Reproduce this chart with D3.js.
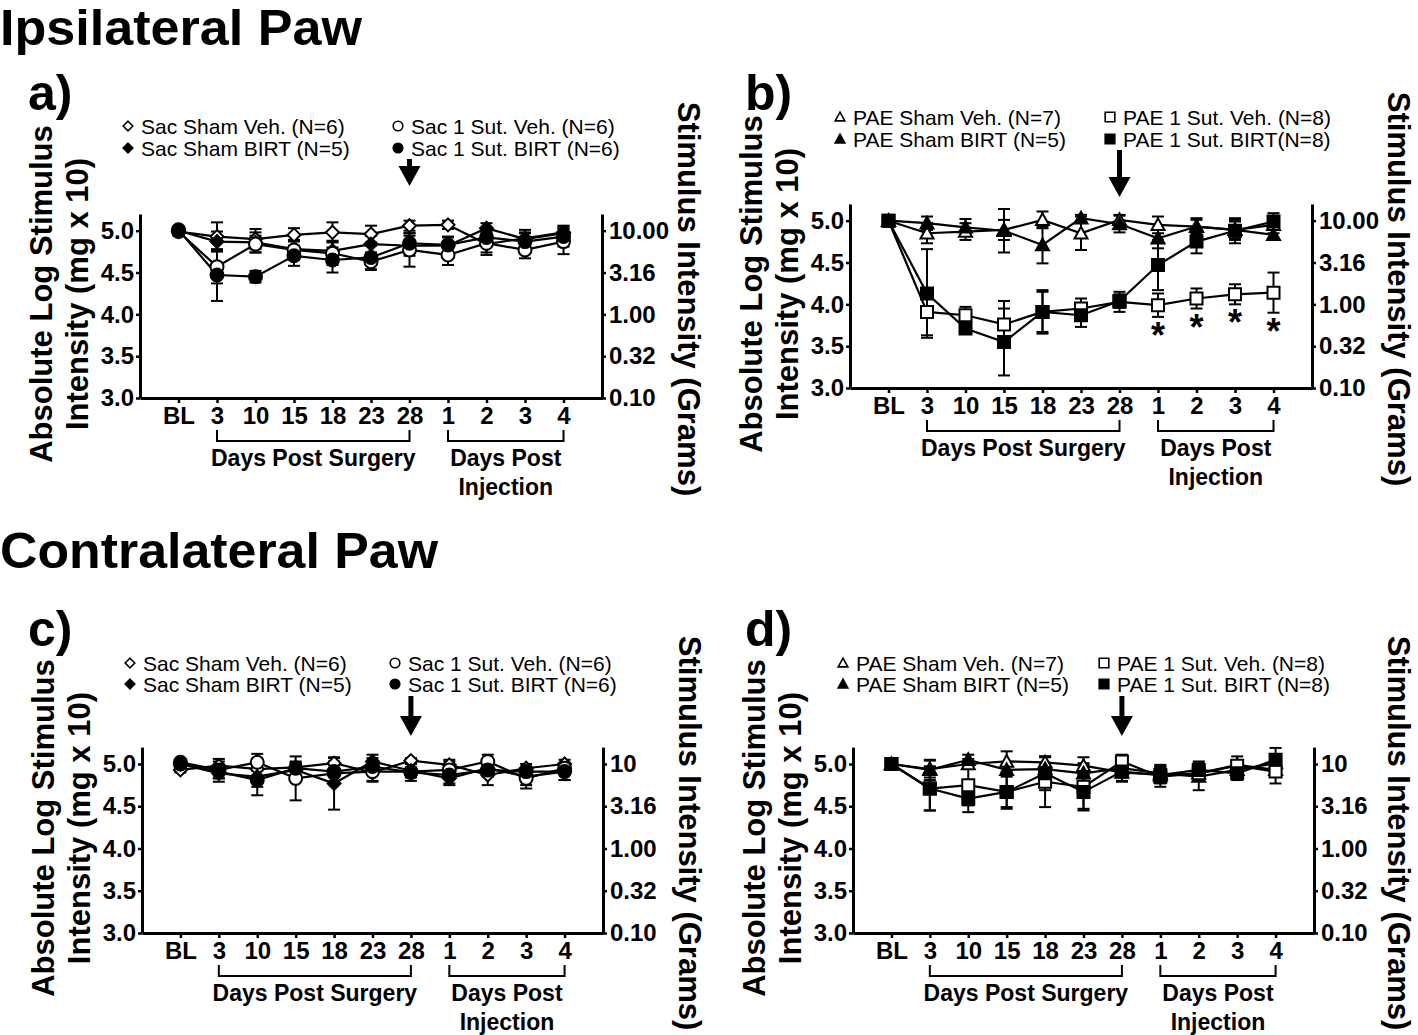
<!DOCTYPE html>
<html>
<head>
<meta charset="utf-8">
<script src="https://cdn.jsdelivr.net/npm/d3@7"></script>
<style>
  body { margin: 0; background: #fff; }
  svg { display: block; font-family: "Liberation Sans", Arial, sans-serif; }
</style>
</head>
<body>
<div id="chart"></div>
<script>
// categorias do eixo x (dias)
const xLabels = ["BL", "3", "10", "15", "18", "23", "28", "1", "2", "3", "4"];
const yTicks = [3.0, 3.5, 4.0, 4.5, 5.0];
const gramTicks = [0.1, 0.316, 1, 3.16, 10];
const gramLabelsTop = ["0.10", "0.32", "1.00", "3.16", "10.00"];
const gramLabelsBottom = ["0.10", "0.32", "1.00", "3.16", "10"];

const sacNames = ["Sac Sham Veh. (N=6)", "Sac Sham BIRT (N=5)", "Sac 1 Sut. Veh. (N=6)", "Sac 1 Sut. BIRT (N=6)"];
const paeNamesB = ["PAE Sham Veh. (N=7)", "PAE Sham BIRT (N=5)", "PAE 1 Sut. Veh. (N=8)", "PAE 1 Sut. BIRT(N=8)"];
const paeNamesD = ["PAE Sham Veh. (N=7)", "PAE Sham BIRT (N=5)", "PAE 1 Sut. Veh. (N=8)", "PAE 1 Sut. BIRT (N=8)"];

// painel a) ipsilateral, Sac
const aShamVeh = [4.99, 4.93, 4.90, 4.95, 4.98, 4.96, 5.06, 5.07, 4.84, 4.91, 4.98];
const aShamVehErr = [0.04, 0.17, 0.12, 0.08, 0.12, 0.10, 0.06, 0.05, 0.10, 0.10, 0.08];
const aShamBirt = [5.00, 4.87, 4.86, 4.78, 4.76, 4.84, 4.82, 4.82, 5.03, 4.90, 4.97];
const aShamBirtErr = [0.05, 0.12, 0.12, 0.10, 0.12, 0.10, 0.12, 0.10, 0.06, 0.08, 0.06];
const aSutVeh = [4.99, 4.57, 4.84, 4.77, 4.73, 4.63, 4.77, 4.71, 4.85, 4.77, 4.87];
const aSutVehErr = [0.05, 0.20, 0.10, 0.12, 0.14, 0.10, 0.20, 0.12, 0.14, 0.10, 0.15];
const aSutBirt = [5.01, 4.47, 4.45, 4.70, 4.65, 4.68, 4.85, 4.83, 4.92, 4.87, 4.93];
const aSutBirtErr = [0.04, 0.31, 0.07, 0.12, 0.15, 0.14, 0.12, 0.10, 0.10, 0.10, 0.12];

// painel b) ipsilateral, PAE
const bShamVeh = [5.00, 4.85, 4.87, 4.89, 5.01, 4.85, 5.01, 4.95, 4.93, 4.89, 4.95];
const bShamVehErr = [0.03, 0.12, 0.10, 0.12, 0.10, 0.20, 0.06, 0.10, 0.10, 0.10, 0.10];
const bShamBirt = [5.00, 4.97, 4.92, 4.88, 4.71, 5.03, 4.96, 4.79, 4.93, 4.89, 4.83];
const bShamBirtErr = [0.03, 0.08, 0.10, 0.26, 0.22, 0.04, 0.10, 0.12, 0.08, 0.12, 0.06];
const bSutVeh = [5.00, 3.91, 3.87, 3.76, 3.91, 3.95, 4.03, 3.99, 4.07, 4.12, 4.14];
const bSutVehErr = [0.03, 0.28, 0.10, 0.28, 0.26, 0.12, 0.12, 0.14, 0.12, 0.12, 0.24];
const bSutBirt = [5.00, 4.13, 3.71, 3.55, 3.91, 3.87, 4.04, 4.47, 4.75, 4.88, 4.99];
const bSutBirtErr = [0.03, 0.53, 0.06, 0.40, 0.24, 0.14, 0.08, 0.30, 0.14, 0.15, 0.10];
const bStars = [false, false, false, false, false, false, false, true, true, true, true];

// painel c) contralateral, Sac
const cShamVeh = [4.93, 4.98, 4.94, 4.96, 5.01, 4.90, 5.04, 4.99, 4.87, 4.95, 5.00];
const cShamVehErr = [0.03, 0.08, 0.08, 0.05, 0.06, 0.10, 0.03, 0.06, 0.12, 0.05, 0.05];
const cShamBirt = [5.00, 4.89, 4.85, 4.93, 4.77, 5.03, 4.92, 4.83, 4.95, 4.85, 4.91];
const cShamBirtErr = [0.04, 0.10, 0.12, 0.08, 0.31, 0.08, 0.08, 0.08, 0.10, 0.10, 0.10];
const cSutVeh = [5.02, 4.93, 5.02, 4.83, 4.89, 4.91, 4.91, 4.93, 5.03, 4.83, 4.95];
const cSutVehErr = [0.04, 0.10, 0.10, 0.26, 0.10, 0.12, 0.05, 0.10, 0.08, 0.12, 0.06];
const cSutBirt = [5.00, 4.91, 4.81, 4.95, 4.91, 4.97, 4.90, 4.87, 4.93, 4.91, 4.91];
const cSutBirtErr = [0.03, 0.08, 0.18, 0.08, 0.12, 0.10, 0.10, 0.10, 0.06, 0.06, 0.10];

// painel d) contralateral, PAE
const dShamVeh = [5.00, 4.94, 5.00, 5.03, 5.02, 4.98, 4.90, 4.87, 4.89, 4.99, 4.93];
const dShamVehErr = [0.03, 0.10, 0.06, 0.12, 0.06, 0.10, 0.10, 0.08, 0.06, 0.10, 0.08];
const dShamBirt = [5.00, 4.93, 5.05, 4.93, 4.94, 4.89, 4.95, 4.89, 4.85, 4.93, 5.01];
const dShamBirtErr = [0.03, 0.12, 0.06, 0.06, 0.06, 0.10, 0.08, 0.10, 0.16, 0.06, 0.10];
const dSutVeh = [5.00, 4.71, 4.75, 4.67, 4.79, 4.73, 5.03, 4.85, 4.89, 4.98, 4.91];
const dSutVehErr = [0.04, 0.26, 0.24, 0.20, 0.30, 0.28, 0.08, 0.12, 0.08, 0.06, 0.14];
const dSutBirt = [5.00, 4.71, 4.59, 4.67, 4.89, 4.67, 4.91, 4.87, 4.93, 4.89, 5.05];
const dSutBirtErr = [0.04, 0.26, 0.16, 0.18, 0.20, 0.20, 0.12, 0.10, 0.10, 0.08, 0.14];

const W = 1418, H = 1035;
const svg = d3.select("#chart").append("svg").attr("width", W).attr("height", H);

// forma dos marcadores
function markerPath(shape, s) {
  if (shape === "diamond") return `M0,${-s}L${s},0L0,${s}L${-s},0Z`;
  if (shape === "circle") return `M${-s},0A${s},${s} 0 1,0 ${s},0A${s},${s} 0 1,0 ${-s},0Z`;
  if (shape === "triangle") return `M0,${-s}L${s},${s * 0.8}L${-s},${s * 0.8}Z`;
  return `M${-s},${-s}L${s},${-s}L${s},${s}L${-s},${s}Z`;
}

// títulos gerais
svg.append("text").attr("x", 0).attr("y", 45).attr("font-size", 50).attr("font-weight", "bold")
  .attr("textLength", 362).attr("lengthAdjust", "spacingAndGlyphs").text("Ipsilateral Paw");
svg.append("text").attr("x", 0).attr("y", 568).attr("font-size", 50).attr("font-weight", "bold")
  .attr("textLength", 438).attr("lengthAdjust", "spacingAndGlyphs").text("Contralateral Paw");

function drawPanel(p) {
  const g = svg.append("g");
  const y = d3.scaleLinear().domain([3, 5]).range([p.y3, p.y5]);
  const yTop = y(5.2);
  const yAxisScale = d3.scaleLinear().domain([3, 5.2]).range([p.y3, yTop]);
  const gScale = d3.scaleLog().domain([0.1, Math.pow(10, 1.2)]).range([p.y3, yTop]);
  const x = d3.scalePoint().domain(d3.range(xLabels.length)).range([p.x0, p.x1]).padding(1);

  // letra do painel
  g.append("text").attr("x", p.letterX).attr("y", p.letterY).attr("font-size", 50).attr("font-weight", "bold").text(p.letter);

  // eixo esquerdo
  const left = g.append("g").attr("transform", `translate(${p.x0},0)`)
    .call(d3.axisLeft(yAxisScale).tickValues(yTicks).tickFormat(d3.format(".1f")).tickSize(4).tickSizeOuter(0).tickPadding(2));
  // eixo direito
  const right = g.append("g").attr("transform", `translate(${p.x1},0)`)
    .call(d3.axisRight(gScale).tickValues(gramTicks).tickFormat((d, i) => p.gramLabels[i]).tickSize(4).tickSizeOuter(0).tickPadding(3));
  // eixo x
  const bottom = g.append("g").attr("transform", `translate(0,${p.y3})`)
    .call(d3.axisBottom(x).tickFormat(i => xLabels[i]).tickSize(5).tickSizeOuter(0).tickPadding(4));

  [left, right, bottom].forEach(ax => {
    ax.select(".domain").attr("stroke", "#000").attr("stroke-width", 3);
    ax.selectAll(".tick line").attr("stroke", "#000").attr("stroke-width", 2.5);
    ax.selectAll(".tick text").attr("fill", "#000").attr("font-size", 24).attr("font-weight", "bold")
      .attr("font-family", "Liberation Sans, Arial, sans-serif");
  });

  // títulos dos eixos y
  const lx = p.x0 - 88, ly = (p.y3 + yTop) / 2 - 12;
  g.append("text").attr("transform", `translate(${lx},${ly}) rotate(-90)`).attr("text-anchor", "middle")
    .attr("font-size", 31).attr("font-weight", "bold").text("Absolute Log Stimulus");
  g.append("text").attr("transform", `translate(${lx + 36},${ly}) rotate(-90)`).attr("text-anchor", "middle")
    .attr("font-size", 31).attr("font-weight", "bold").text("Intensity (mg x 10)");
  g.append("text").attr("transform", `translate(${p.x1 + p.rightTitleDx},${ly + 5}) rotate(90)`).attr("text-anchor", "middle")
    .attr("font-size", 31).attr("font-weight", "bold").text("Stimulus Intensity (Grams)");

  // colchetes e rótulos do eixo x
  const by = p.y3 + 43;
  [[1, 6], [7, 10]].forEach(([a, b]) => {
    g.append("path").attr("d", `M${x(a)},${by - 11}V${by}H${x(b)}V${by - 11}`)
      .attr("fill", "none").attr("stroke", "#000").attr("stroke-width", 2);
  });
  g.append("text").attr("x", (x(1) + x(6)) / 2).attr("y", p.y3 + 68).attr("text-anchor", "middle")
    .attr("font-size", 23).attr("font-weight", "bold").text("Days Post Surgery");
  g.append("text").attr("x", (x(7) + x(10)) / 2).attr("y", p.y3 + 68).attr("text-anchor", "middle")
    .attr("font-size", 23).attr("font-weight", "bold").text("Days Post");
  g.append("text").attr("x", (x(7) + x(10)) / 2).attr("y", p.y3 + 97).attr("text-anchor", "middle")
    .attr("font-size", 23).attr("font-weight", "bold").text("Injection");

  // seta
  const ax6 = x(6);
  g.append("line").attr("x1", ax6).attr("x2", ax6).attr("y1", p.arrowTop).attr("y2", p.arrowTip - 16)
    .attr("stroke", "#000").attr("stroke-width", 5);
  g.append("path").attr("d", `M${ax6 - 11},${p.arrowTip - 20}L${ax6 + 11},${p.arrowTip - 20}L${ax6},${p.arrowTip}Z`).attr("fill", "#000");

  // linhas
  const line = d3.line().x((d, i) => x(i)).y(d => y(d));
  p.series.forEach(s => {
    g.append("path").datum(s.values).attr("d", line).attr("fill", "none").attr("stroke", "#000").attr("stroke-width", 2.2);
  });
  // barras de erro
  p.series.forEach(s => {
    const eg = g.append("g").attr("stroke", "#000").attr("stroke-width", 2);
    s.values.forEach((v, i) => {
      const e = s.errs[i];
      eg.append("line").attr("x1", x(i)).attr("x2", x(i)).attr("y1", y(v - e)).attr("y2", y(v + e));
      eg.append("line").attr("x1", x(i) - 6).attr("x2", x(i) + 6).attr("y1", y(v - e)).attr("y2", y(v - e));
      eg.append("line").attr("x1", x(i) - 6).attr("x2", x(i) + 6).attr("y1", y(v + e)).attr("y2", y(v + e));
    });
  });
  // marcadores
  p.series.forEach(s => {
    g.append("g").selectAll("path").data(s.values).join("path")
      .attr("transform", (d, i) => `translate(${x(i)},${y(d)})`)
      .attr("d", markerPath(s.shape, s.shape === "square" ? 6 : 6.5))
      .attr("fill", s.filled ? "#000" : "#fff").attr("stroke", "#000").attr("stroke-width", 2);
  });

  // asteriscos
  if (p.stars) {
    const st = p.series[p.starSeries];
    p.stars.forEach((on, i) => {
      if (!on) return;
      g.append("text").attr("x", x(i)).attr("y", y(st.values[i] - st.errs[i]) + 31).attr("text-anchor", "middle")
        .attr("font-size", 36).attr("font-weight", "bold").text("*");
    });
  }

  // legenda
  p.series.forEach((s, k) => {
    const col = Math.floor(k / 2), row = k % 2;
    const lx0 = p.legX[col], ly0 = p.legY[row];
    g.append("path").attr("transform", `translate(${lx0},${ly0})`).attr("d", markerPath(s.shape, 4.8))
      .attr("fill", s.filled ? "#000" : "#fff").attr("stroke", "#000").attr("stroke-width", 1.6);
    g.append("text").attr("x", lx0 + 13).attr("y", ly0).attr("dy", "0.36em").attr("font-size", 21).text(s.name);
  });
}

drawPanel({
  letter: "a)", letterX: 28, letterY: 110,
  x0: 140, x1: 602, y5: 230.7, y3: 398, rightTitleDx: 76,
  gramLabels: gramLabelsTop, arrowTop: 159, arrowTip: 186,
  legX: [128, 398], legY: [126, 148],
  series: [
    { name: sacNames[0], shape: "diamond", filled: false, values: aShamVeh, errs: aShamVehErr },
    { name: sacNames[1], shape: "diamond", filled: true, values: aShamBirt, errs: aShamBirtErr },
    { name: sacNames[2], shape: "circle", filled: false, values: aSutVeh, errs: aSutVehErr },
    { name: sacNames[3], shape: "circle", filled: true, values: aSutBirt, errs: aSutBirtErr }
  ]
});

drawPanel({
  letter: "b)", letterX: 745, letterY: 110,
  x0: 850, x1: 1312, y5: 220.7, y3: 388, rightTitleDx: 76,
  gramLabels: gramLabelsTop, arrowTop: 150, arrowTip: 197,
  legX: [840, 1110], legY: [117, 139],
  stars: bStars, starSeries: 2,
  series: [
    { name: paeNamesB[0], shape: "triangle", filled: false, values: bShamVeh, errs: bShamVehErr },
    { name: paeNamesB[1], shape: "triangle", filled: true, values: bShamBirt, errs: bShamBirtErr },
    { name: paeNamesB[2], shape: "square", filled: false, values: bSutVeh, errs: bSutVehErr },
    { name: paeNamesB[3], shape: "square", filled: true, values: bSutBirt, errs: bSutBirtErr }
  ]
});

drawPanel({
  letter: "c)", letterX: 28, letterY: 646,
  x0: 142, x1: 603, y5: 764, y3: 933, rightTitleDx: 76,
  gramLabels: gramLabelsBottom, arrowTop: 696, arrowTip: 736,
  legX: [130, 395], legY: [663, 684],
  series: [
    { name: sacNames[0], shape: "diamond", filled: false, values: cShamVeh, errs: cShamVehErr },
    { name: sacNames[1], shape: "diamond", filled: true, values: cShamBirt, errs: cShamBirtErr },
    { name: sacNames[2], shape: "circle", filled: false, values: cSutVeh, errs: cSutVehErr },
    { name: sacNames[3], shape: "circle", filled: true, values: cSutBirt, errs: cSutBirtErr }
  ]
});

drawPanel({
  letter: "d)", letterX: 745, letterY: 646,
  x0: 853, x1: 1314, y5: 764, y3: 933, rightTitleDx: 74,
  gramLabels: gramLabelsBottom, arrowTop: 696, arrowTip: 736,
  legX: [843, 1104], legY: [663, 684],
  series: [
    { name: paeNamesD[0], shape: "triangle", filled: false, values: dShamVeh, errs: dShamVehErr },
    { name: paeNamesD[1], shape: "triangle", filled: true, values: dShamBirt, errs: dShamBirtErr },
    { name: paeNamesD[2], shape: "square", filled: false, values: dSutVeh, errs: dSutVehErr },
    { name: paeNamesD[3], shape: "square", filled: true, values: dSutBirt, errs: dSutBirtErr }
  ]
});
</script>
</body>
</html>
